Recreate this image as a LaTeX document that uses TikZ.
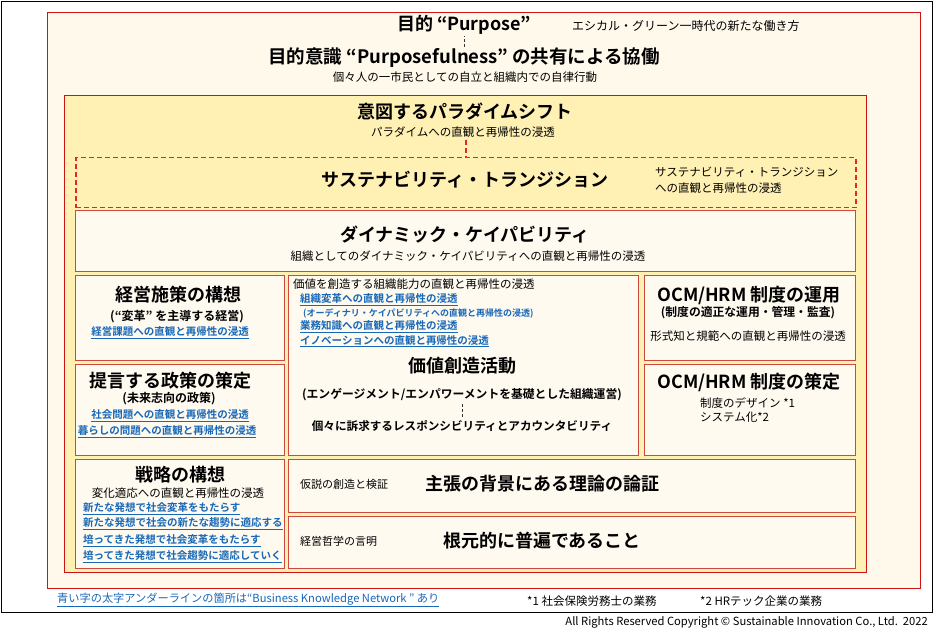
\documentclass[tikz,border=0pt]{standalone}
\usepackage{fontspec}
\setmainfont{Noto Sans CJK JP}[BoldFont={Noto Sans CJK JP Bold}]
\definecolor{framered}{RGB}{204,20,20}
\definecolor{dashred}{RGB}{225,40,40}
\definecolor{boxred}{RGB}{206,72,62}
\definecolor{creamfill}{RGB}{255,249,236}
\definecolor{yellowfill}{RGB}{255,240,180}
\definecolor{boxfill}{RGB}{255,250,240}
\definecolor{linkblue}{RGB}{24,104,184}
\newcommand{\fs}[1]{\fontsize{#1}{#1}\selectfont}
\newcommand{\lnk}[1]{\underline{#1}}
\tikzset{
  panel/.style={draw=boxred, line width=1.3pt, fill=boxfill, inner sep=0, anchor=north west},
  big/.style={font=\bfseries\fs{18}, inner sep=0},
  mid/.style={font=\bfseries\fs{12}, inner sep=0},
  txt/.style={font=\fs{11.5}, inner sep=0},
  link/.style={font=\bfseries\fs{10.5}, text=linkblue, inner sep=0},
  dashlink/.style={densely dashed, line width=0.8pt},
  reddash/.style={draw=dashred, dash pattern=on 5pt off 3pt, line width=1.5pt}
}
\begin{document}
\begin{tikzpicture}[x=1pt,y=-1pt]
\useasboundingbox (0,0) rectangle (940,636);
% frames
\node[draw=black, line width=1pt, fill=white, minimum width=931pt, minimum height=611pt, inner sep=0, anchor=north west] (frame) at (1,1) {};
\node[draw=framered, line width=1.2pt, fill=creamfill, minimum width=873pt, minimum height=576pt, inner sep=0, anchor=north west] (outer) at (47,12) {};
\node[draw=framered, line width=1.2pt, fill=yellowfill, minimum width=802pt, minimum height=477pt, inner sep=0, anchor=north west] (inner) at (64,95) {};
% top texts
\node[font=\bfseries\fs{18}, inner sep=1pt] (purpose) at (464,25) {目的 “Purpose”};
\node[inner sep=0, anchor=west, font=\fs{12}] (ethical) at (572,26) {エシカル・グリーン一時代の新たな働き方};
\node[font=\bfseries\fs{18.5}, inner sep=1pt] (purposeful) at (464,58) {目的意識 “Purposefulness” の共有による協働};
\node[txt] (citizen) at (465,77) {個々人の一市民としての自立と組織内での自律行動};
\draw[dashlink, black!80] (purposeful.north -| purpose.south) -- (purpose.south);
% paradigm
\node[big] (paradigm) at (465,112) {意図するパラダイムシフト};
\node[txt, inner sep=2pt] (paradigmsub) at (463,132) {パラダイムへの直観と再帰性の浸透};
% sustainability
\node[reddash, fill=yellowfill, minimum width=780pt, minimum height=50pt, inner sep=0, anchor=north west] (sust) at (75,157) {};
\draw[reddash] (paradigmsub.south -| sust.north) -- (sust.north);
\node[big] (susttitle) at (465,180) {サステナビリティ・トランジション};
\node[inner sep=0, anchor=west, align=left, font=\fontsize{11.5}{15.5}\selectfont] (sustsub) at (655,180) {サステナビリティ・トランジション\\への直観と再帰性の浸透};
% dynamic capability
\node[panel, minimum width=780pt, minimum height=61pt] (dyn) at (75,210) {};
\node[big] (dyntitle) at (465,235) {ダイナミック・ケイパビリティ};
\node[txt] (dynsub) at (468,256) {組織としてのダイナミック・ケイパビリティへの直観と再帰性の浸透};
% left column
\node[panel, minimum width=209pt, minimum height=85pt] (b1) at (75,275) {};
\node[big] (b1t) at (178,295) {経営施策の構想};
\node[mid] (b1s) at (177,317) {(“変革” を主導する経営)};
\node[link] (b1l) at (170,333) {\lnk{経営課題への直観と再帰性の浸透}};

\node[panel, minimum width=209pt, minimum height=91pt] (b2) at (75,364) {};
\node[big] (b2t) at (170,381) {提言する政策の策定};
\node[mid] (b2s) at (169,399) {(未来志向の政策)};
\node[link] (b2l1) at (170,416) {\lnk{社会問題への直観と再帰性の浸透}};
\node[link] (b2l2) at (167,432) {\lnk{暮らしの問題への直観と再帰性の浸透}};

\node[panel, minimum width=209pt, minimum height=109pt] (b3) at (75,459) {};
\node[big] (b3t) at (180,475) {戦略の構想};
\node[txt] (b3s) at (178,493) {変化適応への直観と再帰性の浸透};
\node[link, anchor=west] (b3l1) at (83,509) {\lnk{新たな発想で社会変革をもたらす}};
\node[link, anchor=west] (b3l2) at (83,524) {\lnk{新たな発想で社会の新たな趨勢に適応する}};
\node[link, anchor=west] (b3l3) at (83,541) {\lnk{培ってきた発想で社会変革をもたらす}};
\node[link, anchor=west] (b3l4) at (83,557) {\lnk{培ってきた発想で社会趨勢に適応していく}};
% center
\node[panel, minimum width=350pt, minimum height=180pt] (ctr) at (288,275) {};
\node[txt, anchor=west] (c0) at (293,284) {価値を創造する組織能力の直観と再帰性の浸透};
\node[link, anchor=west] (c1) at (300,300) {\lnk{組織変革への直観と再帰性の浸透}};
\node[font=\bfseries\fs{9}, text=linkblue, inner sep=0, anchor=west] (c1s) at (303,313) {(オーディナリ・ケイパビリティへの直観と再帰性の浸透)};
\node[link, anchor=west] (c2) at (300,327) {\lnk{業務知識への直観と再帰性の浸透}};
\node[link, anchor=west] (c3) at (300,341) {\lnk{イノベーションへの直観と再帰性の浸透}};
\node[big] (ctitle) at (462,366) {価値創造活動};
\node[font=\bfseries\fs{11.8}, inner sep=3pt] (cparen) at (462,395) {(エンゲージメント/エンパワーメントを基礎とした組織運営)};
\node[font=\bfseries\fs{11.6}, inner sep=3pt] (cresp) at (462,426) {個々に訴求するレスポンシビリティとアカウンタビリティ};
\draw[dashlink, black!80] (cparen.south) -- (cresp.north);
% right column
\node[panel, minimum width=211pt, minimum height=85pt] (r1) at (644,275) {};
\node[font=\bfseries\fs{18}, inner sep=0] (r1t) at (749,295) {OCM/HRM 制度の運用};
\node[font=\bfseries\fs{11.8}, inner sep=0] (r1s) at (748,313) {(制度の適正な運用・管理・監査)};
\node[txt] (r1x) at (748,336) {形式知と規範への直観と再帰性の浸透};

\node[panel, minimum width=211pt, minimum height=91pt] (r2) at (644,364) {};
\node[font=\bfseries\fs{18}, inner sep=0] (r2t) at (749,382) {OCM/HRM 制度の策定};
\node[inner sep=0, anchor=west, align=left, font=\fontsize{11.5}{14.5}\selectfont] (r2x) at (700,410) {制度のデザイン *1\\システム化*2};
% bottom
\node[panel, minimum width=567pt, minimum height=53pt] (bt1) at (288,459) {};
\node[inner sep=0, anchor=west, font=\fs{11}] (bt1l) at (300,484) {仮説の創造と検証};
\node[big] (bt1t) at (542,484) {主張の背景にある理論の論証};
\node[panel, minimum width=567pt, minimum height=52pt] (bt2) at (288,516) {};
\node[inner sep=0, anchor=west, font=\fs{11}] (bt2l) at (300,541) {経営哲学の言明};
\node[big] (bt2t) at (542,541) {根元的に普遍であること};
% footer
\node[font=\fs{11.2}, text=linkblue, inner sep=0, anchor=west] (foot) at (57,600) {\lnk{青い字の太字アンダーラインの箇所は“Business Knowledge Network ” あり}};
\node[font=\fs{11.5}, inner sep=0, anchor=west] (fn1) at (527,601) {*1 社会保険労務士の業務};
\node[font=\fs{11.5}, inner sep=0, anchor=west] (fn2) at (700,601) {*2 HRテック企業の業務};
\node[font=\fs{11.2}, inner sep=0, anchor=east] (copy) at (928,622) {All Rights Reserved Copyright © Sustainable Innovation Co., Ltd.\ \ 2022};
\end{tikzpicture}
\end{document}
